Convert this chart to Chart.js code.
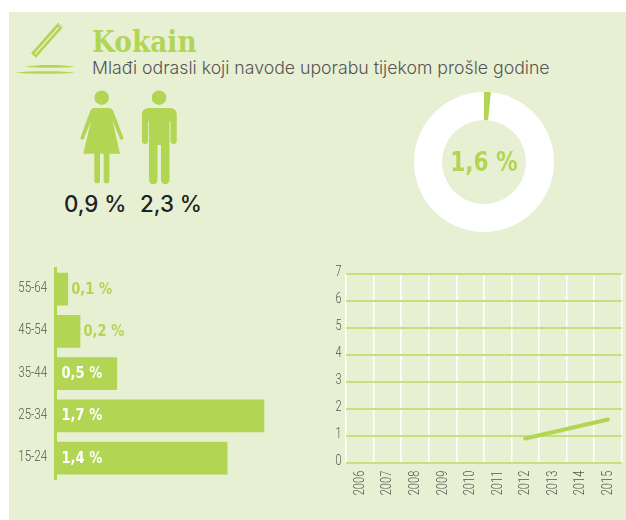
<!DOCTYPE html>
<html><head><meta charset="utf-8">
<script src="https://cdn.jsdelivr.net/npm/chart.js@4"></script>
<style>
html,body{margin:0;padding:0;background:#fff;width:626px;height:520px;overflow:hidden}
#panel{position:absolute;left:9px;top:12px;width:617px;height:508px;background:#e8f0d3}
canvas{position:absolute}
.t{position:absolute;white-space:nowrap;line-height:1}
svg{position:absolute;left:0;top:0}
</style></head><body>
<div id="panel"></div>
<svg width="626" height="520">
 <g fill="#b2d553" stroke="none">
  <circle cx="101.7" cy="97.7" r="7.3"/>
  <path d="M95 108h13.5c2.5 0 4 1 5 3.5l9.800 26c.6 2-2.400 3.400-3.300 1.300l-7.400-17.800 7.400 32.700H83.300l7.600-32.700-7 17.800c-.9 2.100-4 .7-3.400-1.300l9.500-26c1-2.500 2.500-3.500 5-3.500z"/>
  <path d="M94.300 153h5.700v27.500a2.850 2.850 0 0 1-5.700 0zM103.700 153h5.700v27.500a2.850 2.850 0 0 1-5.700 0z"/>
  <circle cx="159" cy="97.700" r="7.300"/>
  <path d="M148 108h22c4.500 0 7 2.500 7 7v26a3 3 0 0 1-6 0v-19.500h-1V180a4.150 4.150 0 0 1-8.300 0v-35h-3.400v35a4.150 4.150 0 0 1-8.300 0V121.500h-.8V141a3 3 0 0 1-6 0V115c0-4.500 2.800-7 6.800-7z" transform="translate(-.8 0) translate(159 0) scale(1.03 1) translate(-159 0)"/>
  <path d="M25 66.800c14-2.400 34-2.400 50 0-16 1.400-34 1.400-50 0zM15 72.800c18-2 42-1.800 60 0-18 1.400-42 1.400-60 0z"/>
 </g>
 <g fill="none" stroke-linecap="butt">
  <path d="M33.500 55.500 L60.500 25" stroke="#b2d553" stroke-width="6.500"/>
  <path d="M35 54 L58.500 27.300" stroke="#eef4dc" stroke-width="1.200"/>
  <path d="M58 24 L62.500 28" stroke="#dbe9ae" stroke-width="1"/>
 </g>
</svg>
<div class="t" style="left:92px;top:24px;font:700 30px 'DejaVu Serif';color:#b2d553;transform:scaleX(.88);transform-origin:0 0">Kokain</div>
<div class="t" style="left:92px;top:57px;font:300 17.700px Inter;color:#555">Mlađi odrasli koji navode uporabu tijekom prošle godine</div>
<div class="t" style="left:64px;top:189.500px;font:500 22.300px Inter;color:#222">0,9 %</div>
<div class="t" style="left:140px;top:189.500px;font:500 22.300px Inter;color:#222">2,3 %</div>
<canvas id="d" style="left:404px;top:82px" width="160" height="160"></canvas>
<canvas id="b" style="left:0;top:258px" width="320" height="232"></canvas>
<canvas id="l" style="left:320px;top:262px" width="306" height="240"></canvas>
<script>
const GREEN='#b2d553', GRID='#c6e07f', WHITE='#ffffff', TICK='#55554f';
const BOLD="'DejaVu Sans'", NARROW="Roboto";

const totalShare=[1.6];
const totalLabel='1,6 %';
const ageGroups=['55-64','45-54','35-44','25-34','15-24'];
const ageValues=[0.1,0.2,0.5,1.7,1.4];
const ageLabels=['0,1 %','0,2 %','0,5 %','1,7 %','1,4 %'];
const years=['2006','2007','2008','2009','2010','2011','2012','2013','2014','2015'];
const trend=[null,null,null,null,null,null,0.9,null,null,1.6];
const yTicks=[0,1,2,3,4,5,6,7];

Chart.defaults.animation=false;
Chart.defaults.responsive=false;
Chart.defaults.plugins.legend.display=false;
Chart.defaults.plugins.tooltip.enabled=false;

function squeezed(ctx,text,x,y,font,sx,color,align,rot){
  ctx.save();ctx.translate(x,y);if(rot)ctx.rotate(rot);ctx.scale(sx,1);
  ctx.font=font;ctx.fillStyle=color;ctx.textAlign=align;ctx.textBaseline='middle';
  ctx.fillText(text,0,0);ctx.restore();
}

new Chart(document.getElementById('d'),{
 type:'doughnut',
 data:{labels:['share','rest'],datasets:[{data:[totalShare[0],100-totalShare[0]],backgroundColor:[GREEN,WHITE],borderWidth:0}]},
 options:{cutout:'60%',radius:70,layout:{padding:0},maintainAspectRatio:false},
 plugins:[{id:'c',afterDraw(c){const a=c.chartArea;
   squeezed(c.ctx,totalLabel,(a.left+a.right)/2,(a.top+a.bottom)/2+1.500,'700 27px '+BOLD,.8,GREEN,'center');}}]
});

new Chart(document.getElementById('b'),{
 type:'bar',
 data:{labels:ageGroups,datasets:[{data:ageValues,backgroundColor:GREEN,barThickness:32}]},
 options:{indexAxis:'y',maintainAspectRatio:false,
  layout:{padding:{top:10,bottom:10.750,right:19.300,left:0}},
  scales:{
   x:{display:false,min:0,max:2},
   y:{afterFit(s){s.width=55.500},grid:{display:false},border:{color:GREEN,width:3},ticks:{display:false}}
  }},
 plugins:[{id:'v',afterDatasetsDraw(c){const x=c.ctx,m=c.getDatasetMeta(0),ys=c.scales.y;
   m.data.forEach((b,i)=>{const inside=ageValues[i]>=0.5;
     squeezed(x,ageLabels[i],inside?c.chartArea.left+6:b.x+3.500,b.y+.5,'700 15px '+BOLD,.87,inside?WHITE:GREEN,'left');
     squeezed(x,ageGroups[i],47,ys.getPixelForTick(i)-.7,'300 14.500px '+NARROW,.79,TICK,'right');
   });}}]
});

new Chart(document.getElementById('l'),{
 type:'line',
 data:{labels:years,datasets:[{data:trend,borderColor:GREEN,borderWidth:4,borderCapStyle:'round',pointRadius:0,spanGaps:true,tension:0}]},
 options:{maintainAspectRatio:false,
  layout:{padding:{top:12,right:4.300,left:0,bottom:0}},
  scales:{
   x:{offset:true,grid:{color:WHITE,lineWidth:1.500,offset:true,drawTicks:false},border:{display:false},
      ticks:{display:false},afterFit(s){s.height=39.300}},
   y:{min:0,max:7,afterFit(s){s.width=26},afterBuildTicks(s){s.ticks=yTicks.map(v=>({value:v}))},
      grid:{color:GRID,lineWidth:2,drawTicks:false},border:{display:false},ticks:{display:false}}
  }},
 plugins:[{id:'t',afterDraw(c){const x=c.ctx,sx=c.scales.x,sy=c.scales.y;
   yTicks.forEach(v=>squeezed(x,String(v),21.500,sy.getPixelForValue(v)-1.300,'300 14.500px '+NARROW,.75,TICK,'right'));
   years.forEach((y,i)=>squeezed(x,y,sx.getPixelForTick(i)+.3,sy.bottom+8,'300 15px '+NARROW,.74,TICK,'right',-Math.PI/2));
 }}]
});
</script>
</body></html>
